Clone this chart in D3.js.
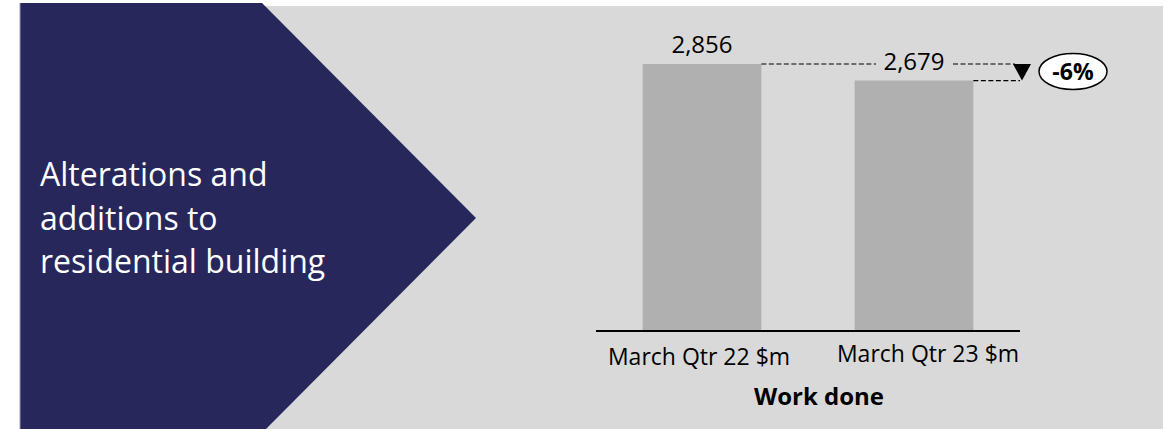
<!DOCTYPE html>
<html>
<head>
<meta charset="utf-8">
<script src="https://cdn.jsdelivr.net/npm/d3@7"></script>
<style>
  html, body { margin: 0; padding: 0; background: #fff; }
  svg { display: block; font-family: "Open Sans", sans-serif; }
</style>
</head>
<body>
<script>
// work done, alterations and additions to residential building
var categories = ['March Qtr 22 $m', 'March Qtr 23 $m'];
var values = [2856, 2679];
var valueLabels = ['2,856', '2,679'];
var titleLines = ['Alterations and', 'additions to', 'residential building'];
var axisTitle = 'Work done';
var changeLabel = '-6%';

var w = 1168, h = 429;

var svg = d3.select('body').append('svg')
  .attr('width', w)
  .attr('height', h);

// grey panel
svg.append('rect')
  .attr('x', 20).attr('y', 6)
  .attr('width', 1143).attr('height', h - 6)
  .attr('fill', '#d9d9d9');

// navy arrow panel
svg.append('path')
  .attr('d', d3.line()([[20, 3], [262, 3], [476, 218], [263, 432], [20, 432]]))
  .attr('fill', '#27275c');
svg.append('line')
  .attr('x1', 20).attr('x2', 20).attr('y1', 3).attr('y2', h)
  .attr('stroke', '#9a9ab0').attr('stroke-width', 1);

svg.append('text')
  .attr('fill', '#fff')
  .attr('font-size', 32)
  .selectAll('tspan')
  .data(titleLines)
  .enter().append('tspan')
  .attr('x', 40)
  .attr('y', function(d, i) { return 186 + i * 43.5; })
  .text(function(d) { return d; });

// bars
var x = d3.scaleBand()
  .domain(categories)
  .range([596, 1020])
  .paddingInner(0.44)
  .paddingOuter(0.22);

var y = d3.scaleLinear()
  .domain([0, 2856])
  .range([331, 64]);

var bw = x.bandwidth();
function cx(d) { return x(d) + bw / 2; }

svg.selectAll('rect.bar')
  .data(categories)
  .enter().append('rect')
  .attr('class', 'bar')
  .attr('x', function(d) { return x(d); })
  .attr('width', bw)
  .attr('y', function(d, i) { return y(values[i]); })
  .attr('height', function(d, i) { return y(0) - y(values[i]); })
  .attr('fill', '#b0b0b0');

// axis
var axis = svg.append('g')
  .attr('transform', 'translate(0,' + y(0) + ')')
  .call(d3.axisBottom(x).tickSize(0).tickPadding(0).tickFormat(''));
axis.select('.domain').attr('stroke', '#000').attr('stroke-width', 2).attr('d', 'M596,0H1020');

var labelDx = [-3, 14], labelBase = [365, 362];
svg.selectAll('text.cat')
  .data(categories)
  .enter().append('text')
  .attr('class', 'cat')
  .attr('x', function(d, i) { return cx(d) + labelDx[i]; })
  .attr('y', function(d, i) { return labelBase[i]; })
  .attr('text-anchor', 'middle')
  .attr('font-size', 23)
  .attr('fill', '#000')
  .text(function(d) { return d; });

svg.append('text')
  .attr('x', 819).attr('y', 405)
  .attr('text-anchor', 'middle')
  .attr('font-size', 24)
  .attr('font-weight', 'bold')
  .text(axisTitle);

// value labels
svg.selectAll('text.val')
  .data(categories)
  .enter().append('text')
  .attr('class', 'val')
  .attr('x', function(d) { return cx(d); })
  .attr('y', function(d, i) { return y(values[i]) - 11; })
  .attr('text-anchor', 'middle')
  .attr('font-size', 24)
  .text(function(d, i) { return valueLabels[i]; });

// dashed reference lines
var y0 = y(values[0]), y1 = y(values[1]);
var xr0 = cx(categories[0]) + bw / 2, xr1 = cx(categories[1]) + bw / 2;
var dash = function(x1, x2, yy) {
  svg.append('line')
    .attr('x1', x1).attr('x2', x2).attr('y1', yy).attr('y2', yy)
    .attr('stroke', '#000').attr('stroke-width', 1.2)
    .attr('stroke-dasharray', '5,2.5');
};
dash(xr0, 876, y0);
dash(953, 1015, y0);
dash(xr1, 1020, y1);

// down triangle
svg.append('path')
  .attr('d', d3.line()([[1013, y0], [1031, y0], [1022, y1]]) + 'Z')
  .attr('fill', '#000');

// change bubble
svg.append('ellipse')
  .attr('cx', 1073).attr('cy', 71.5)
  .attr('rx', 34).attr('ry', 18)
  .attr('fill', '#fff')
  .attr('stroke', '#000').attr('stroke-width', 1.5);
svg.append('text')
  .attr('x', 1073).attr('y', 80)
  .attr('text-anchor', 'middle')
  .attr('font-size', 23)
  .attr('font-weight', 'bold')
  .text(changeLabel);
</script>
</body>
</html>
